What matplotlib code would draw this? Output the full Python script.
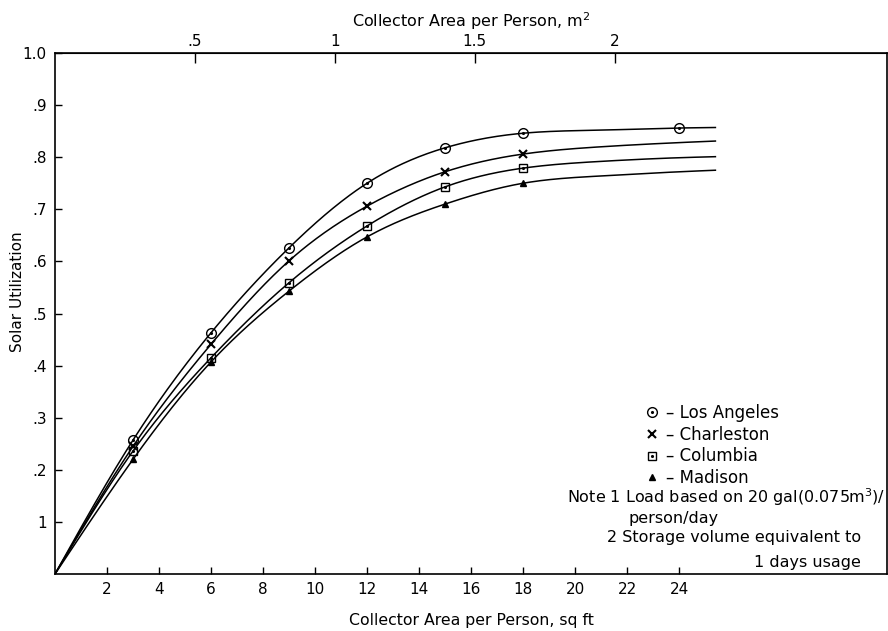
#!/usr/bin/env python3

import matplotlib
matplotlib.use("Agg")
import matplotlib.pyplot as plt
import numpy as np

# Curve values (collector area in sq ft vs solar utilization)
area_sqft = [0, 3, 6, 9, 12, 15, 18, 21, 24, 25.4]
los_angeles = [0, 0.257, 0.463, 0.626, 0.750, 0.818, 0.846, 0.852, 0.856, 0.857]
charleston = [0, 0.245, 0.441, 0.601, 0.706, 0.772, 0.806, 0.820, 0.828, 0.831]
columbia = [0, 0.236, 0.415, 0.559, 0.668, 0.743, 0.779, 0.792, 0.799, 0.801]
madison = [0, 0.220, 0.407, 0.543, 0.647, 0.710, 0.750, 0.764, 0.772, 0.775]

# Measured points (markers)
la_marker_x = [3, 6, 9, 12, 15, 18, 24]
other_marker_x = [3, 6, 9, 12, 15, 18]

x_ticks = [2, 4, 6, 8, 10, 12, 14, 16, 18, 20, 22, 24]
y_ticks = [0.1, 0.2, 0.3, 0.4, 0.5, 0.6, 0.7, 0.8, 0.9, 1.0]
y_tick_labels = ["1", ".2", ".3", ".4", ".5", ".6", ".7", ".8", ".9", "1.0"]
m2_ticks = [0.5, 1, 1.5, 2]
m2_tick_labels = [".5", "1", "1.5", "2"]

SQFT_PER_M2 = 10.764


def smooth(x, y, n=400):
	"""Natural cubic spline through the read points."""
	x = np.asarray(x, float)
	y = np.asarray(y, float)
	npts = len(x)
	h = np.diff(x)
	d = np.diff(y) / h
	A = np.zeros((npts, npts))
	b = np.zeros(npts)
	A[0, 0] = A[-1, -1] = 1
	for i in range(1, npts - 1):
		A[i, i - 1] = h[i - 1]
		A[i, i] = 2 * (h[i - 1] + h[i])
		A[i, i + 1] = h[i]
		b[i] = 6 * (d[i] - d[i - 1])
	M = np.linalg.solve(A, b)
	xs = np.linspace(x[0], x[-1], n)
	i = np.clip(np.searchsorted(x, xs) - 1, 0, npts - 2)
	hi = h[i]
	a = x[i + 1] - xs
	c = xs - x[i]
	ys = (M[i] * a**3 / (6 * hi) + M[i + 1] * c**3 / (6 * hi)
		+ (y[i] / hi - M[i] * hi / 6) * a + (y[i + 1] / hi - M[i + 1] * hi / 6) * c)
	return xs, ys


plt.rc("font", family="DejaVu Sans", size=11)

fig = plt.figure(figsize=(8.88, 6.31), dpi=100)
# axes frame: x 55..887 px, y 53..574 px
ax = fig.add_axes([55 / 888, 57 / 631, 832 / 888, 521 / 631])

series = [
	("Los Angeles", los_angeles, la_marker_x, "o", 7),
	("Charleston", charleston, other_marker_x, "x", 5.5),
	("Columbia", columbia, other_marker_x, "s", 6),
	("Madison", madison, other_marker_x, "^", 4.5),
]

handles = []
for name, vals, mx, mk, ms in series:
	xs, ys = smooth(area_sqft, vals)
	ax.plot(xs, ys, color="black", lw=1.1)
	my = [vals[area_sqft.index(p)] for p in mx]
	if mk in ("o", "s"):
		h1, = ax.plot(mx, my, ls="none", marker=mk, ms=ms, mfc="none",
			mec="black", mew=1.0)
		h2, = ax.plot(mx, my, ls="none", marker=".", ms=2.5, color="black")
		handles.append((h1, h2))
	elif mk == "x":
		h1, = ax.plot(mx, my, ls="none", marker=mk, ms=ms, color="black", mew=1.5)
		handles.append(h1)
	else:
		h1, = ax.plot(mx, my, ls="none", marker=mk, ms=ms, color="black")
		handles.append(h1)

ax.set_xlim(0, 32.0)
ax.set_ylim(0, 1.0)
ax.set_xticks(x_ticks)
ax.set_yticks(y_ticks)
ax.set_yticklabels(y_tick_labels)
ax.tick_params(direction="in", length=5, width=1.0, labelsize=11, pad=6)
for s in ax.spines.values():
	s.set_linewidth(1.2)

top = ax.secondary_xaxis("top", functions=(lambda v: v / SQFT_PER_M2,
	lambda v: v * SQFT_PER_M2))
top.set_xticks(m2_ticks)
top.set_xticklabels(m2_tick_labels)
top.tick_params(direction="in", length=7, width=1.0, labelsize=11, pad=3)
top.set_xlabel(r"Collector Area per Person, m$^2$", fontsize=11.5, labelpad=5)

ax.set_xlabel("Collector Area per Person, sq ft", fontsize=11.3, labelpad=11)
fig.text(18 / 888, 1 - 292 / 631, "Solar Utilization", rotation=90,
	ha="center", va="center", fontsize=11)

ax.legend(handles, ["\u2013 Los Angeles", "\u2013 Charleston", "\u2013 Columbia",
	"\u2013 Madison"], loc="upper left", bbox_to_anchor=(0.697, 0.342),
	frameon=False, borderpad=0, handlelength=1.0, handletextpad=0.35,
	labelspacing=0.22, fontsize=12)

notes = [
	(0.9976, 0.148, "Note 1 Load based on 20 gal(0.075m$^3$)/", "right"),
	(0.689, 0.107, "person/day", "left"),
	(0.969, 0.071, "2 Storage volume equivalent to", "right"),
	(0.969, 0.023, "1 days usage", "right"),
]
for nx, ny, txt, ha in notes:
	ax.text(nx, ny, txt, transform=ax.transAxes, fontsize=11.5, ha=ha,
		va="center")

fig.savefig("out.png", dpi=100)
